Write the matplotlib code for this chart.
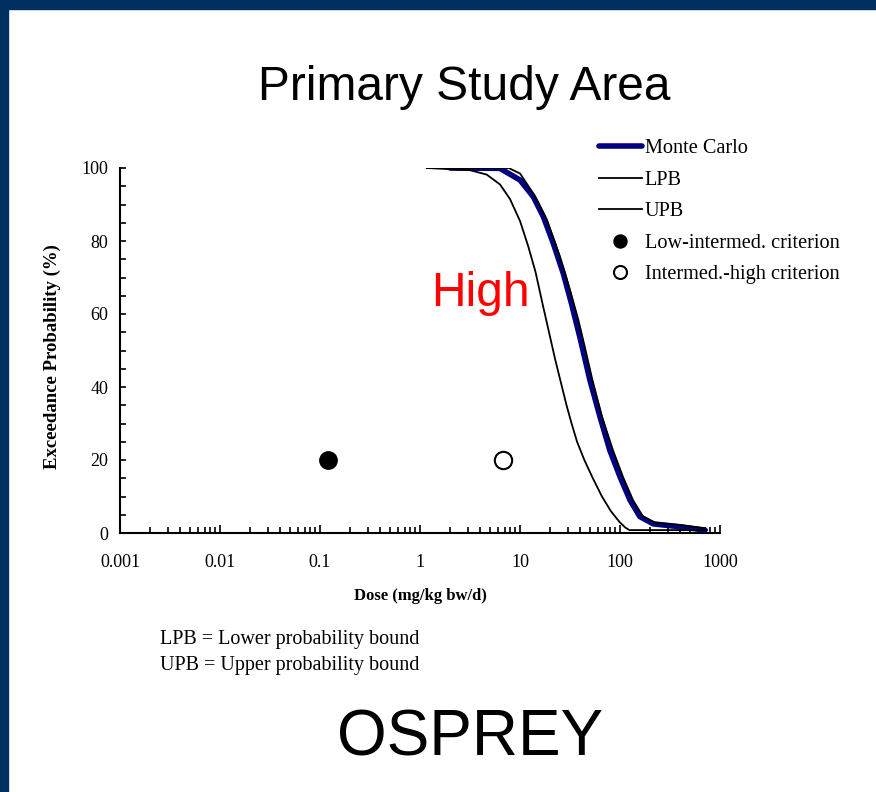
import matplotlib
matplotlib.use('Agg')
import matplotlib.pyplot as plt
from matplotlib.patches import Rectangle
from matplotlib.ticker import LogLocator, MultipleLocator, FixedLocator, FixedFormatter

# exceedance curves, dose in mg/kg bw/d, probability in %
mc_dose = [2.0, 6.3, 10, 13.6, 17.1, 21.5, 27.1, 32.7, 39.8, 50, 63, 79, 100, 126, 158, 215, 398, 708]
mc_prob = [100, 99.9, 96.7, 92.1, 86.7, 79.4, 71.1, 62.9, 53.5, 41.9, 31.9, 22.7, 15.4, 9.0, 4.5, 2.5, 1.7, 0.8]

lpb_dose = [1.17, 3.16, 4.64, 6.31, 7.94, 10, 12.1, 14.3, 16.9, 19.5, 22.5, 26.3, 29.2, 32.8,
            37.2, 44, 53.5, 66, 81, 99, 113, 124, 735]
lpb_prob = [100, 99.4, 98.2, 95.5, 91.5, 85.5, 78.5, 71.5, 62.5, 55, 47.5, 40, 35, 30,
            25, 20, 15, 10, 6, 3, 1.5, 0.8, 0.8]

upb_dose = [1.17, 7.7, 10, 13.6, 18.6, 25.1, 31.6, 38.3, 44, 53, 66, 85, 107, 135, 170, 225, 398, 690]
upb_prob = [100, 100, 98.5, 93, 85.8, 75.7, 66.6, 58.4, 51.5, 41.9, 31.9, 22.7, 15.4, 9.0, 4.5, 2.8, 2.2, 1.3]

# toxicity criteria
low_crit = (0.12, 20)
high_crit = (6.8, 20)

xticks = [0.001, 0.01, 0.1, 1, 10, 100, 1000]
xticklabels = ['0.001', '0.01', '0.1', '1', '10', '100', '1000']
yticks = [0, 20, 40, 60, 80, 100]

W, H = 876, 792
fig = plt.figure(figsize=(W / 100, H / 100), dpi=100)
fig.patch.set_facecolor('white')

navy = '#003060'
fig.patches.append(Rectangle((0, 1 - 9 / H), 1, 9 / H, transform=fig.transFigure, color=navy, zorder=0))
fig.patches.append(Rectangle((0, 0), 8 / W, 1, transform=fig.transFigure, color=navy, zorder=0))

serif = 'Liberation Serif'
sans = 'Liberation Sans'

ax = fig.add_axes([120 / W, 1 - 533 / H, 600 / W, 365 / H])
ax.set_xscale('log')
ax.set_xlim(0.001, 1000)
ax.set_ylim(0, 100)

mc, = ax.plot(mc_dose, mc_prob, color='#000080', lw=4, solid_capstyle='round',
              solid_joinstyle='round', label='Monte Carlo', zorder=3)
lpb, = ax.plot(lpb_dose, lpb_prob, color='black', lw=1.3, label='LPB', zorder=4)
upb, = ax.plot(upb_dose, upb_prob, color='black', lw=1.3, label='UPB', zorder=4)
p1, = ax.plot([low_crit[0]], [low_crit[1]], 'o', ms=12.5, mfc='black', mec='black',
              ls='none', label='Low-intermed. criterion', zorder=5)
p2, = ax.plot([high_crit[0]], [high_crit[1]], 'o', ms=12.5, mfc='white', mec='black', mew=1.5,
              ls='none', label='Intermed.-high criterion', zorder=5)

for s in ['top', 'right']:
    ax.spines[s].set_visible(False)
for s in ['left', 'bottom']:
    ax.spines[s].set_linewidth(1.5)

ax.xaxis.set_major_locator(FixedLocator(xticks))
ax.xaxis.set_major_formatter(FixedFormatter(xticklabels))
ax.xaxis.set_minor_locator(LogLocator(base=10, subs=range(2, 10), numticks=20))
ax.yaxis.set_major_locator(FixedLocator(yticks))
ax.yaxis.set_minor_locator(MultipleLocator(5))

ax.tick_params(axis='x', which='major', direction='in', length=6, width=1.2, pad=15)
ax.tick_params(axis='x', which='minor', direction='in', length=4, width=1.2)
ax.tick_params(axis='y', which='both', direction='in', length=4.5, width=1.2, pad=8.5)
for lab in ax.get_xticklabels() + ax.get_yticklabels():
    lab.set_fontfamily(serif)
    lab.set_fontsize(13)

fig.text(420 / W, 1 - 596 / H, 'Dose (mg/kg bw/d)', ha='center', va='center',
         family=serif, fontweight='bold', fontsize=12)
fig.text(52 / W, 1 - 357 / H, 'Exceedance Probability (%)', ha='center', va='center',
         rotation=90, family=serif, fontweight='bold', fontsize=13.5)

ax.legend(handles=[mc, lpb, upb, p1, p2], loc='upper left',
          bbox_to_anchor=(599 / W, 1 - 139 / H), bbox_transform=fig.transFigure,
          frameon=False, borderpad=0, borderaxespad=0, handlelength=2.1,
          handletextpad=0.15, labelspacing=0.61, markerscale=0.75,
          prop={'family': serif, 'size': 14.6})

fig.text(464 / W, 1 - 100 / H, 'Primary Study Area', ha='center', va='baseline',
         family=sans, fontsize=34.5)
fig.text(431 / W, 1 - 306 / H, 'High', ha='left', va='baseline',
         family=sans, fontsize=34.5, color='#ff0000')
fig.text(160 / W, 1 - 644 / H, 'LPB = Lower probability bound', ha='left', va='baseline',
         family=serif, fontsize=14.5)
fig.text(160 / W, 1 - 670 / H, 'UPB = Upper probability bound', ha='left', va='baseline',
         family=serif, fontsize=14.5)
fig.text(470 / W, 1 - 755 / H, 'OSPREY', ha='center', va='baseline',
         family=sans, fontsize=46)

fig.savefig('out.png', dpi=100)
